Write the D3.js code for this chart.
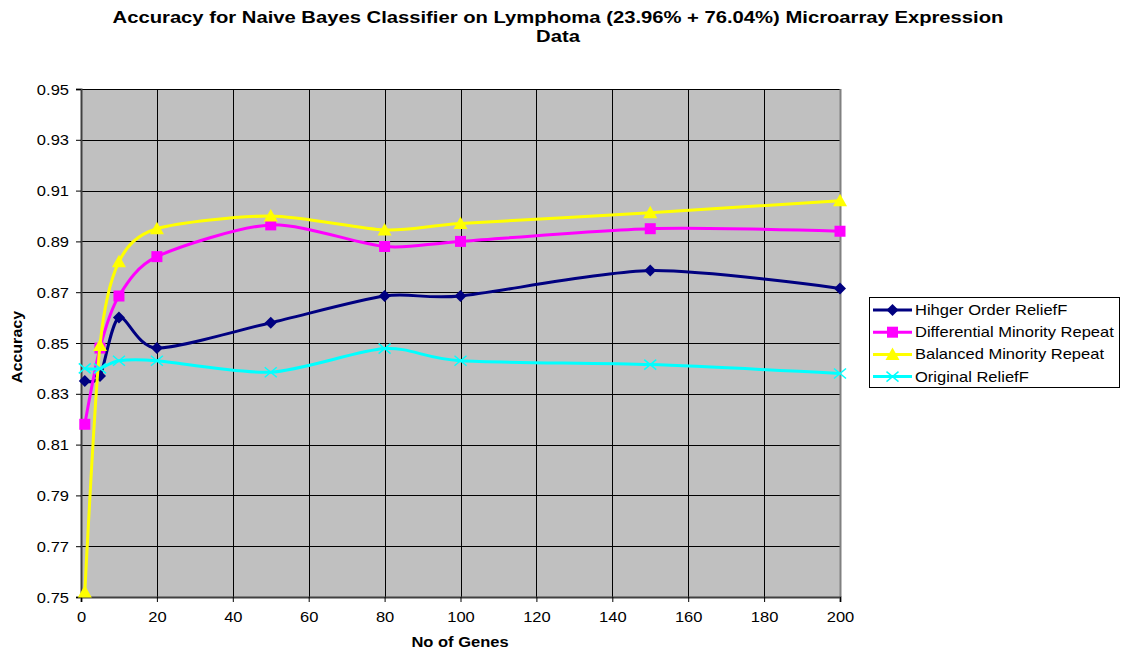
<!DOCTYPE html>
<html>
<head>
<meta charset="utf-8">
<script src="https://cdn.jsdelivr.net/npm/d3@7"></script>
<style>
  html, body { margin: 0; padding: 0; background: #ffffff; }
  svg { display: block; font-family: "Liberation Sans", Arial, sans-serif; }
</style>
</head>
<body>
<svg id="chart" width="1125" height="655"></svg>
<script>
// Number of genes selected
const genes = [1, 5, 10, 20, 50, 80, 100, 150, 200];

// Accuracy per method
const higherOrder   = [0.835, 0.837, 0.860, 0.848, 0.858, 0.8685, 0.8685, 0.8785, 0.8715];
const diffMinority  = [0.818, 0.848, 0.8685, 0.884, 0.8965, 0.888, 0.890, 0.895, 0.894];
const balMinority   = [0.752, 0.849, 0.882, 0.895, 0.900, 0.8945, 0.897, 0.9013, 0.906];
const originalRelief = [0.840, 0.840, 0.843, 0.843, 0.8385, 0.8478, 0.843, 0.8415, 0.838];

const seriesNames = ["Hihger Order ReliefF", "Differential Minority Repeat", "Balanced Minority Repeat", "Original ReliefF"];
const xTicks = [0, 20, 40, 60, 80, 100, 120, 140, 160, 180, 200];
const yTicks = [0.75, 0.77, 0.79, 0.81, 0.83, 0.85, 0.87, 0.89, 0.91, 0.93, 0.95];

const series = [
  { name: seriesNames[0], values: higherOrder,    color: "#000080", marker: "diamond" },
  { name: seriesNames[1], values: diffMinority,   color: "#FF00FF", marker: "square" },
  { name: seriesNames[2], values: balMinority,    color: "#FFFF00", marker: "triangle" },
  { name: seriesNames[3], values: originalRelief, color: "#00FFFF", marker: "cross" }
];

const svg = d3.select("#chart");
const plot = { left: 81, right: 840, top: 89, bottom: 597 };
const SX = 1.18; // horizontal widening of the lettering

const x = d3.scaleLinear().domain([0, 200]).range([plot.left, plot.right]);
const y = d3.scaleLinear().domain([0.75, 0.95]).range([plot.bottom, plot.top]);

// Text placed at (tx, ty), widened horizontally about its anchor
function wideText(parent, tx, ty, str, size, opts = {}) {
  const t = parent.append("text")
    .attr("transform", `translate(${tx},${ty}) ${opts.rotate ? `rotate(${opts.rotate})` : ""} scale(${opts.sx || SX},1)`)
    .attr("text-anchor", opts.anchor || "start")
    .attr("font-size", size)
    .attr("fill", "#000")
    .text(str);
  if (opts.bold) t.attr("font-weight", "bold");
  return t;
}

// Title
wideText(svg, 558, 23, "Accuracy for Naive Bayes Classifier on Lymphoma (23.96% + 76.04%) Microarray Expression", 17, { anchor: "middle", bold: true, sx: 1.19 });
wideText(svg, 558, 42, "Data", 17, { anchor: "middle", bold: true, sx: 1.19 });

// Plot background
svg.append("rect")
  .attr("x", plot.left).attr("y", plot.top)
  .attr("width", plot.right - plot.left).attr("height", plot.bottom - plot.top)
  .attr("fill", "#C0C0C0");

// Grid lines
const grid = svg.append("g").attr("stroke", "#000").attr("stroke-width", 1).attr("shape-rendering", "crispEdges");
grid.selectAll(".gy").data(yTicks).join("line")
  .attr("x1", plot.left).attr("x2", plot.right)
  .attr("y1", d => Math.round(y(d)) + 0.5).attr("y2", d => Math.round(y(d)) + 0.5);
grid.selectAll(".gx").data(xTicks).join("line")
  .attr("y1", plot.top).attr("y2", plot.bottom)
  .attr("x1", d => Math.round(x(d)) + 0.5).attr("x2", d => Math.round(x(d)) + 0.5);

// Right plot border
svg.append("line")
  .attr("x1", plot.right + 0.5).attr("x2", plot.right + 0.5)
  .attr("y1", plot.top).attr("y2", plot.bottom)
  .attr("stroke", "#808080").attr("stroke-width", 2);

// Axes
const yAxis = d3.axisLeft(y).tickValues(yTicks).tickSize(5).tickFormat(d3.format(".2f"));
const yG = svg.append("g").attr("transform", `translate(${plot.left},0)`).call(yAxis);
const xAxis = d3.axisBottom(x).tickValues(xTicks).tickSize(5);
const xG = svg.append("g").attr("transform", `translate(0,${plot.bottom})`).call(xAxis);
[yG, xG].forEach(g => {
  g.select(".domain").attr("stroke", "#404040").attr("stroke-width", 2);
  g.selectAll(".tick line").attr("stroke", "#000");
  g.selectAll(".tick text").attr("font-size", 14).attr("fill", "#000")
    .attr("font-family", "'Liberation Sans', Arial, sans-serif");
});
yG.selectAll(".tick text")
  .attr("x", null).attr("dy", null)
  .attr("transform", `translate(-12,5) scale(${SX},1)`);
xG.selectAll(".tick text")
  .attr("y", null).attr("dy", null)
  .attr("transform", `translate(0,25) scale(${SX},1)`);

// Axis titles
wideText(svg, 460, 647, "No of Genes", 14, { anchor: "middle", bold: true });
wideText(svg, 22, 347, "Accuracy", 14, { anchor: "middle", bold: true, rotate: -90, sx: 1.15 });

// Marker shapes
function drawMarker(g, type, color, cx, cy) {
  if (type === "diamond") {
    g.append("path").attr("d", `M${cx},${cy - 6}L${cx + 6},${cy}L${cx},${cy + 6}L${cx - 6},${cy}Z`).attr("fill", color);
  } else if (type === "square") {
    g.append("rect").attr("x", cx - 5.5).attr("y", cy - 5.5).attr("width", 11).attr("height", 11).attr("fill", color);
  } else if (type === "triangle") {
    g.append("path").attr("d", `M${cx},${cy - 7}L${cx + 7},${cy + 5.5}L${cx - 7},${cy + 5.5}Z`).attr("fill", color);
  } else {
    g.append("path").attr("d", `M${cx - 6},${cy - 5}L${cx + 6},${cy + 5}M${cx - 6},${cy + 5}L${cx + 6},${cy - 5}`)
      .attr("stroke", color).attr("stroke-width", 1.5).attr("fill", "none");
  }
}

const line = d3.line()
  .x((d, i) => x(genes[i]))
  .y(d => y(d))
  .curve(d3.curveCardinal.tension(0.2));

// Series lines and markers
series.forEach(s => {
  const g = svg.append("g");
  g.append("path")
    .attr("d", line(s.values))
    .attr("fill", "none")
    .attr("stroke", s.color)
    .attr("stroke-width", 3);
  s.values.forEach((v, i) => drawMarker(g, s.marker, s.color, x(genes[i]), y(v)));
});

// Legend
const legend = svg.append("g");
legend.append("rect")
  .attr("x", 869.5).attr("y", 297.5).attr("width", 250).attr("height", 90)
  .attr("fill", "#fff").attr("stroke", "#000").attr("stroke-width", 1);
series.forEach((s, i) => {
  const ly = 310 + i * 22.2;
  legend.append("line")
    .attr("x1", 873).attr("x2", 912).attr("y1", ly).attr("y2", ly)
    .attr("stroke", s.color).attr("stroke-width", 3);
  drawMarker(legend, s.marker, s.color, 892.5, ly);
  wideText(legend, 915, ly + 5, s.name, 14);
});
</script>
</body>
</html>
